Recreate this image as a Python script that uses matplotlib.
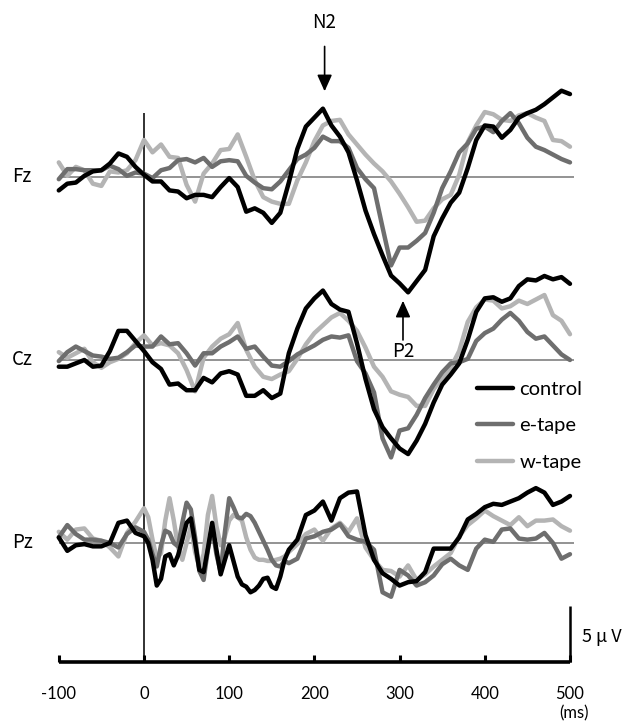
import numpy as np
import matplotlib
matplotlib.use('Agg')
import matplotlib.pyplot as plt

# ---------------------------------------------------------
# ERP data (uV, negative up)
# ---------------------------------------------------------
t10 = np.arange(-100, 501, 10)
t_pz = np.concatenate([np.arange(-100, 0, 10), np.arange(0, 170, 5), np.arange(170, 501, 10)])

fz_control = [1.2, 0.6, 0.5, -0.1, -0.5, -0.6, -1.2, -2.1, -1.8, -0.9,
              -0.2, 0.4, 0.4, 1.2, 1.3, 1.9, 1.6, 1.6, 1.8, 0.9,
              0.1, 0.9, 3.1, 2.8, 3.2, 4.1, 3.2, 0.5, -2.5, -4.5,
              -5.3, -6.1, -4.6, -3.6, -2.2, 0.3, 3.0, 5.1, 7.0, 8.8,
              9.5, 10.3, 9.3, 8.3, 5.3, 3.7, 2.3, 1.4, -0.8, -3.3,
              -4.6, -4.5, -3.5, -4.2, -5.3, -5.7, -6.0, -6.5, -7.1, -7.7,
              -7.4]
fz_etape = [0.2, -0.7, -0.7, -0.6, -0.6, -0.6, -1.0, -0.7, -0.1, -0.4,
            -0.3, 0.1, -0.6, -0.8, -1.5, -1.6, -1.3, -1.7, -0.9, -1.4,
            -1.5, -1.4, -0.1, 0.5, 1.0, 1.1, 0.4, -0.6, -1.6, -2.0,
            -2.6, -3.6, -3.2, -3.2, -2.6, -0.8, 0.2, 1.0, 4.5, 7.9,
            6.3, 6.3, 5.7, 5.0, 3.2, 1.0, -0.5, -2.2, -3.0, -4.3,
            -4.5, -4.0, -5.0, -5.7, -4.8, -3.5, -2.7, -2.4, -2.0, -1.6,
            -1.3]
fz_wtape = [-1.3, -0.1, -0.9, -0.6, 0.6, 0.8, -0.5, -0.4, -0.6, -1.5,
            -3.3, -2.2, -2.9, -1.8, -1.7, 0.7, 2.2, -0.3, -1.2, -2.4,
            -2.5, -3.8, -1.8, 0.3, 1.8, 2.2, 2.4, 2.4, 0.3, -1.3,
            -3.2, -4.6, -5.0, -5.1, -3.8, -2.9, -2.0, -1.2, -0.5, 0.4,
            1.5, 2.7, 4.0, 3.9, 2.8, 2.0, 1.6, -0.2, -3.1, -4.6,
            -5.8, -5.6, -5.1, -5.0, -5.5, -5.7, -5.3, -5.0, -3.3, -3.2,
            -2.7]

cz_control = [0.6, 0.6, 0.3, 0.0, 0.6, 0.5, -0.8, -2.6, -2.6, -1.7,
              -0.8, 0.2, 0.8, 2.2, 2.1, 2.7, 2.7, 1.6, 2.0, 1.2,
              1.0, 1.3, 3.2, 3.2, 2.7, 3.4, 3.0, -0.6, -2.8, -4.6,
              -5.5, -6.2, -5.0, -4.5, -4.3, -1.5, 1.7, 4.4, 6.0, 7.0,
              7.9, 8.4, 7.2, 5.7, 3.8, 2.2, 1.3, 0.3, -1.8, -4.3,
              -5.5, -5.6, -5.2, -5.5, -6.6, -7.2, -7.1, -7.5, -7.2, -7.4,
              -6.8]
cz_etape = [0.1, -0.7, -1.2, -0.8, -0.4, -0.3, -0.1, -0.2, -0.7, -1.3,
            -1.2, -1.2, -2.1, -1.4, -1.5, -0.6, 0.5, -0.6, -0.6, -1.2,
            -1.6, -2.1, -1.0, -1.2, -0.3, 0.5, 0.6, 0.1, -0.5, -0.9,
            -1.3, -1.8, -2.1, -2.0, -2.2, 0.1, 1.2, 2.9, 7.0, 8.7,
            6.3, 6.1, 4.9, 3.4, 2.2, 1.1, 0.3, 0.2, -0.1, -1.7,
            -2.4, -2.8, -3.6, -4.2, -3.5, -2.5, -1.9, -2.1, -1.3, -0.5,
            0.0]
cz_wtape = [-0.7, -0.2, -0.6, -1.0, 0.2, 0.7, 0.2, -0.1, -0.6, -1.5,
            -2.2, -1.3, -1.5, -1.3, -0.6, 0.9, 2.8, -0.2, -1.2, -1.9,
            -2.3, -3.3, -0.9, 0.6, 1.5, 1.7, 1.3, 1.0, -0.1, -1.4,
            -2.4, -3.1, -3.8, -4.2, -3.5, -2.6, -1.1, 0.6, 1.5, 2.8,
            3.1, 3.3, 4.1, 4.1, 2.6, 1.6, 0.7, -0.8, -3.4, -4.7,
            -5.4, -5.3, -4.6, -4.8, -5.3, -5.0, -5.4, -5.8, -4.0, -3.5,
            -2.3]

pz_control = [-0.5, 0.7, 0.2, 0.1, 0.3, 0.3, 0.0, -1.8, -2.0, -0.9,
              -0.6, 0.0, 1.5, 3.8, 3.2, 1.2, 1.0, 2.0, 1.1, -0.3,
              -1.8, -2.2, 0.0, 2.4, 2.6, 0.5, -1.8, 0.6, 2.8, 1.5,
              0.2, 1.6, 3.0, 3.7, 3.9, 4.4, 4.2, 3.8, 3.2, 3.1,
              3.9, 4.1, 3.0, 1.5,
              0.6, -0.3, -2.5, -2.9, -3.7, -2.0, -4.0, -4.5, -4.6, -0.7,
              1.5, 2.7, 3.2, 3.8, 3.5, 3.4, 2.6, 0.5, 0.5, 0.5,
              -0.5, -2.1, -2.6, -3.2, -3.5, -3.4, -3.7, -4.0, -4.5, -4.9,
              -4.5, -3.4, -3.7, -4.2]
pz_etape = [-0.5, -1.6, -0.8, -0.3, -0.3, -0.2, 0.0, 0.4, -0.8, -1.4,
            -1.0, -0.3, 1.0, 2.1, 0.2, -1.1, -0.9, 0.0, 0.3, -1.8,
            -3.6, -3.0, -0.5, 2.5, 3.3, 0.6, -1.5, 1.0, 2.6, -1.0,
            -4.0, -3.2, -2.3, -2.2, -2.6, -2.4, -1.8, -1.0, -0.2, 0.6,
            1.5, 2.0, 2.1, 1.6,
            1.8, 1.4, -0.4, -0.6, -1.0, -1.2, -1.7, -0.6, -0.3, -0.1,
            0.6, 4.4, 4.8, 2.4, 2.9, 3.8, 3.5, 2.9, 1.9, 1.4,
            2.0, 2.4, 0.5, -0.3, -0.1, -1.2, -1.3, -0.4, -0.3, -0.4,
            -0.9, 0.0, 1.4, 1.0]
pz_wtape = [-1.0, -0.3, -1.2, -1.3, -0.4, -0.2, 0.4, 1.2, -0.9, -1.9,
            -3.1, -2.3, -0.3, 1.4, 0.9, -2.0, -4.0, -2.0, 0.4, 1.5,
            0.0, -1.5, 0.8, 2.2, 1.0, -2.5, -4.2, -1.5, 0.2, -0.6,
            -2.0, -2.5, -2.3, -2.0, -0.5, 0.6, 1.3, 1.5, 1.5, 1.6,
            1.6, 1.5, 1.4, 1.2,
            0.8, 0.1, -0.8, -1.2, -0.2, -1.3, -1.8, -1.0, -2.2, 0.4,
            1.5, 2.4, 2.5, 3.0, 2.0, 3.3, 2.8, 2.1, 1.5, 0.9,
            -0.6, -1.6, -2.2, -2.9, -2.4, -2.0, -1.6, -2.3, -1.5, -2.0,
            -2.0, -2.1, -1.5, -1.1]

channels = ['Fz', 'Cz', 'Pz']
offsets = [0.0, 16.34, 32.68]       # vertical spacing of the channels (uV)
conditions = ['control', 'e-tape', 'w-tape']
colors = {'control': '#000000', 'e-tape': '#6e6e6e', 'w-tape': '#b4b4b4'}
xticks = [-100, 0, 100, 200, 300, 400, 500]

data = {
    'Fz': (t10, {'control': fz_control, 'e-tape': fz_etape, 'w-tape': fz_wtape}),
    'Cz': (t10, {'control': cz_control, 'e-tape': cz_etape, 'w-tape': cz_wtape}),
    'Pz': (t_pz, {'control': pz_control, 'e-tape': pz_etape, 'w-tape': pz_wtape}),
}

# ---------------------------------------------------------
# Figure
# ---------------------------------------------------------
fig = plt.figure(figsize=(6.28, 7.24), dpi=100)
ax = fig.add_axes([0, 0, 1, 1])
ax.set_xlim(-169.0, 568.1)
ax.set_ylim(48.84, -15.80)   # negative up
ax.axis('off')

lab_font = ['Noto Sans CJK JP', 'DejaVu Sans']
num_font = ['Lato', 'DejaVu Sans']

handles = {}
for ch, off in zip(channels, offsets):
    ax.hlines(off, -100, 505, color='#808080', lw=1.2, zorder=1)
    t, series = data[ch]
    for cond in ['w-tape', 'e-tape', 'control']:
        ln, = ax.plot(t, np.array(series[cond]) + off, color=colors[cond], lw=3.2,
                      solid_joinstyle='round', solid_capstyle='round', zorder=3)
        handles[cond] = ln
    ax.text(-143, off, ch, fontsize=13.5, family=lab_font, ha='center', va='center')

# stimulus onset line
ax.vlines(0, -5.7, 43.3, color='#222222', lw=1.3, zorder=2)

# time axis
ax.hlines(43.3, -100, 500, color='black', lw=2.6, zorder=4)
for xt in xticks:
    ax.vlines(xt, 42.7, 43.3, color='black', lw=2.2, zorder=4)
    ax.text(xt, 46.2, str(xt), fontsize=12, family=num_font, ha='center', va='center')
ax.text(505, 47.9, '(ms)', fontsize=12, family=num_font, ha='center', va='center')

# 5 uV scale bar
ax.vlines(500, 38.3, 43.3, color='black', lw=1.8, zorder=4)
ax.text(514, 41.1, '5 \u03bc V', fontsize=13, family=lab_font, ha='left', va='center')

# component labels
ax.text(212, -13.75, 'N2', fontsize=13.5, family=lab_font, ha='center', va='center')
ax.annotate('', xy=(212, -7.4), xytext=(212, -11.9),
            arrowprops=dict(arrowstyle='-|>,head_width=0.45,head_length=1.0',
                            color='black', lw=1.2))
ax.text(304, 15.6, 'P2', fontsize=13.5, family=lab_font, ha='center', va='center')
ax.annotate('', xy=(304, 10.8), xytext=(304, 14.8),
            arrowprops=dict(arrowstyle='-|>,head_width=0.45,head_length=1.0',
                            color='black', lw=1.2))

ax.legend([handles[c] for c in conditions], conditions, loc='upper left',
          bbox_to_anchor=(477 / 628, 1 - 381 / 724), frameon=False,
          prop={'family': num_font, 'size': 14.5}, handlelength=1.8,
          handletextpad=0.3, labelspacing=0.95, borderpad=0, borderaxespad=0)

fig.savefig('out.png', dpi=100)
